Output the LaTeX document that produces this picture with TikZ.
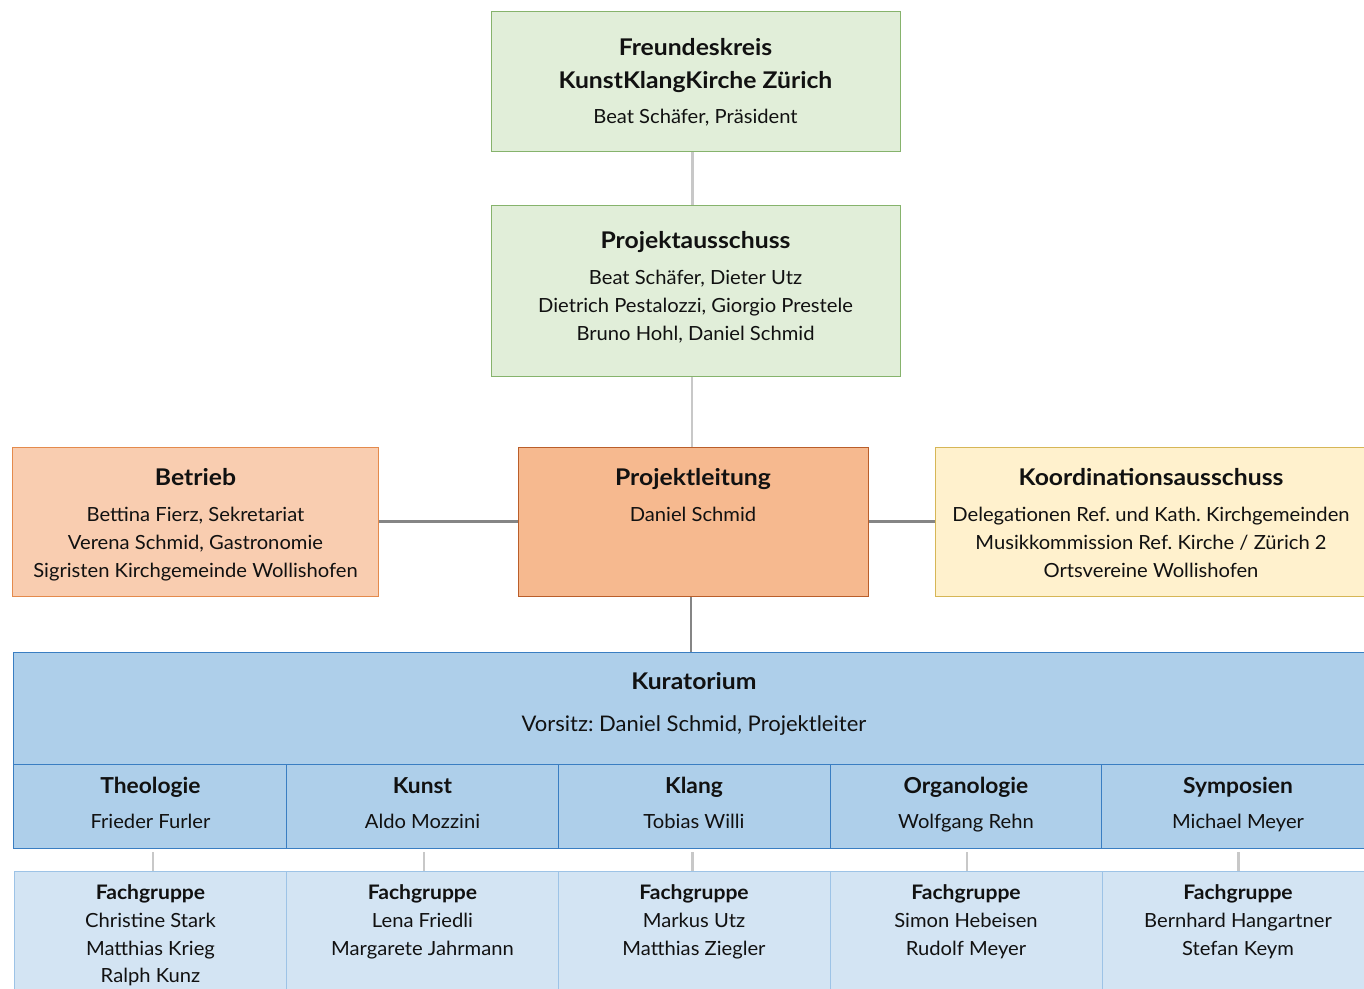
\documentclass[tikz,border=0pt]{standalone}
\usepackage{fontspec}
\setmainfont{Lato}
\frenchspacing
\definecolor{gfill}{HTML}{E1EED9}
\definecolor{gdraw}{HTML}{86B36C}
\definecolor{ofill}{HTML}{F9CDB0}
\definecolor{odraw}{HTML}{E48A4C}
\definecolor{pfill}{HTML}{F6B98F}
\definecolor{pdraw}{HTML}{BA5E2A}
\definecolor{yfill}{HTML}{FFF1CD}
\definecolor{ydraw}{HTML}{D6B656}
\definecolor{bfill}{HTML}{AECFEA}
\definecolor{bdraw}{HTML}{3A7EC2}
\definecolor{lfill}{HTML}{D3E4F3}
\definecolor{ldraw}{HTML}{9DC3E6}
\definecolor{lightline}{HTML}{C8C8C8}
\definecolor{darkline}{HTML}{858585}
\definecolor{txt}{HTML}{111111}
\newcommand\mkbox[6]{\node[boxshape,#6, minimum width={(#4-#2)*1pt}, minimum height={(#5-#3)*1pt}] (#1) at ({(#2+#4)/2},{(#3+#5)/2}) {};}
\newcommand\tl[5]{\node[anchor=base, inner sep=0pt, text=txt, font=#4] (#1) at (#2,#3) {#5};}
\newcommand\bodyf{\fontsize{19.5}{23}\selectfont\addfontfeature{FakeStretch=1.035}\frenchspacing}
\newcommand\titlef{\fontsize{23}{26}\selectfont\bfseries\addfontfeature{FakeStretch=1.075}\frenchspacing}
\newcommand\subtf{\fontsize{22}{25}\selectfont\bfseries\addfontfeature{FakeStretch=1.035}\frenchspacing}
\newcommand\fgf{\fontsize{20}{23}\selectfont\bfseries\addfontfeature{FakeStretch=1.055}\frenchspacing}
\newcommand\vorf{\fontsize{21.5}{25}\selectfont\addfontfeature{FakeStretch=1.024}\frenchspacing}
\begin{document}
\begin{tikzpicture}[x=1pt,y=-1pt,
  boxshape/.style={rectangle, inner sep=0pt, line width=1pt},
  green/.style={fill=gfill, draw=gdraw},
  orangel/.style={fill=ofill, draw=odraw},
  oranged/.style={fill=pfill, draw=pdraw},
  yellowb/.style={fill=yfill, draw=ydraw},
  blueb/.style={fill=bfill, draw=bdraw},
  bluel/.style={fill=lfill, draw=ldraw},
  lconn/.style={draw=lightline, line width=2.6pt},
  dconn/.style={draw=darkline, line width=2.8pt}]
\useasboundingbox (0,0) rectangle (1364,988);
\clip (0,0) rectangle (1364,988);
\fill[white] (0,0) rectangle (1364,988);
% boxes
\mkbox{fk}{491}{11}{900}{151}{green}
\mkbox{pa}{491}{205}{900}{376}{green}
\mkbox{pl}{518}{447.5}{868}{596}{oranged}
\mkbox{be}{12.5}{447.5}{378.5}{596}{orangel}
\mkbox{ko}{935}{447.5}{1372}{596}{yellowb}
\mkbox{ku}{13.5}{652}{1378}{764}{blueb}
\mkbox{s1}{13.5}{764}{286.5}{848}{blueb}
\mkbox{s2}{286.5}{764}{558}{848}{blueb}
\mkbox{s3}{558}{764}{830.5}{848}{blueb}
\mkbox{s4}{830.5}{764}{1101.5}{848}{blueb}
\mkbox{s5}{1101.5}{764}{1378}{848}{blueb}
\mkbox{f1}{14.5}{871.5}{286.5}{1000}{bluel}
\mkbox{f2}{286.5}{871.5}{558}{1000}{bluel}
\mkbox{f3}{558}{871.5}{830.5}{1000}{bluel}
\mkbox{f4}{830.5}{871.5}{1102}{1000}{bluel}
\mkbox{f5}{1102}{871.5}{1378}{1000}{bluel}
% connectors
\draw[lconn] ([xshift=-2.8pt]fk.south) -- ([xshift=-2.8pt]pa.north);
\draw[lconn] ([xshift=-1pt]pl.north |- pa.south) -- ([xshift=-1pt]pl.north);
\draw[dconn] (be.east) -- (pl.west);
\draw[dconn] (pl.east) -- (ko.west);
\draw[dconn] ([xshift=-2pt]pl.south) -- ([xshift=-2pt]pl.south |- ku.north);
\draw[lconn] ([xshift=2.5pt,yshift=-3.5pt]f1.north |- s1.south) -- ([xshift=2.5pt]f1.north);
\draw[lconn] ([xshift=1.8pt,yshift=-3.5pt]f2.north |- s2.south) -- ([xshift=1.8pt]f2.north);
\draw[lconn] ([xshift=-2pt,yshift=-3.5pt]f3.north |- s3.south) -- ([xshift=-2pt]f3.north);
\draw[lconn] ([xshift=0.8pt,yshift=-3.5pt]f4.north |- s4.south) -- ([xshift=0.8pt]f4.north);
\draw[lconn] ([xshift=-1.5pt,yshift=-3.5pt]f5.north |- s5.south) -- ([xshift=-1.5pt]f5.north);
% texts
\tl{fk1}{695.5}{55}{\titlef}{Freundeskreis}
\tl{fk2}{695.5}{88}{\titlef}{KunstKlangKirche Zürich}
\tl{fk3}{695.5}{123}{\bodyf}{Beat Schäfer, Präsident}
\tl{pa1}{695.5}{248}{\titlef}{Projektausschuss}
\tl{pa2}{695.5}{284}{\bodyf}{Beat Schäfer, Dieter Utz}
\tl{pa3}{695.5}{312}{\bodyf}{Dietrich Pestalozzi, Giorgio Prestele}
\tl{pa4}{695.5}{340}{\bodyf}{Bruno Hohl, Daniel Schmid}
\tl{be1}{195.5}{485.5}{\titlef}{Betrieb}
\tl{be2}{195.5}{521}{\bodyf}{Bettina Fierz, Sekretariat}
\tl{be3}{195.5}{549}{\bodyf}{Verena Schmid, Gastronomie}
\tl{be4}{195.5}{577}{\bodyf}{Sigristen Kirchgemeinde Wollishofen}
\tl{pl1}{693}{485.5}{\titlef}{Projektleitung}
\tl{pl2}{693}{521}{\bodyf}{Daniel Schmid}
\tl{ko1}{1151}{485.5}{\titlef}{Koordinationsausschuss}
\tl{ko2}{1151}{521}{\bodyf}{Delegationen Ref. und Kath. Kirchgemeinden}
\tl{ko3}{1151}{549}{\bodyf}{Musikkommission Ref. Kirche / Zürich 2}
\tl{ko4}{1151}{577}{\bodyf}{Ortsvereine Wollishofen}
\tl{ku1}{694}{689}{\titlef}{Kuratorium}
\tl{ku2}{694}{731.5}{\vorf}{Vorsitz: Daniel Schmid, Projektleiter}
\tl{s1a}{150.5}{793}{\subtf}{Theologie}
\tl{s1b}{150.5}{828}{\bodyf}{Frieder Furler}
\tl{s2a}{422.5}{793}{\subtf}{Kunst}
\tl{s2b}{422.5}{828}{\bodyf}{Aldo Mozzini}
\tl{s3a}{694}{793}{\subtf}{Klang}
\tl{s3b}{694}{828}{\bodyf}{Tobias Willi}
\tl{s4a}{966}{793}{\subtf}{Organologie}
\tl{s4b}{966}{828}{\bodyf}{Wolfgang Rehn}
\tl{s5a}{1238}{793}{\subtf}{Symposien}
\tl{s5b}{1238}{828}{\bodyf}{Michael Meyer}
\tl{f1a}{150.5}{899}{\fgf}{Fachgruppe}
\tl{f1b}{150.5}{927}{\bodyf}{Christine Stark}
\tl{f1c}{150.5}{955}{\bodyf}{Matthias Krieg}
\tl{f1d}{150.5}{982.7}{\bodyf}{Ralph Kunz}
\tl{f2a}{422.5}{899}{\fgf}{Fachgruppe}
\tl{f2b}{422.5}{927}{\bodyf}{Lena Friedli}
\tl{f2c}{422.5}{955}{\bodyf}{Margarete Jahrmann}
\tl{f3a}{694}{899}{\fgf}{Fachgruppe}
\tl{f3b}{694}{927}{\bodyf}{Markus Utz}
\tl{f3c}{694}{955}{\bodyf}{Matthias Ziegler}
\tl{f4a}{966}{899}{\fgf}{Fachgruppe}
\tl{f4b}{966}{927}{\bodyf}{Simon Hebeisen}
\tl{f4c}{966}{955}{\bodyf}{Rudolf Meyer}
\tl{f5a}{1238}{899}{\fgf}{Fachgruppe}
\tl{f5b}{1238}{927}{\bodyf}{Bernhard Hangartner}
\tl{f5c}{1238}{955}{\bodyf}{Stefan Keym}
\end{tikzpicture}
\end{document}
